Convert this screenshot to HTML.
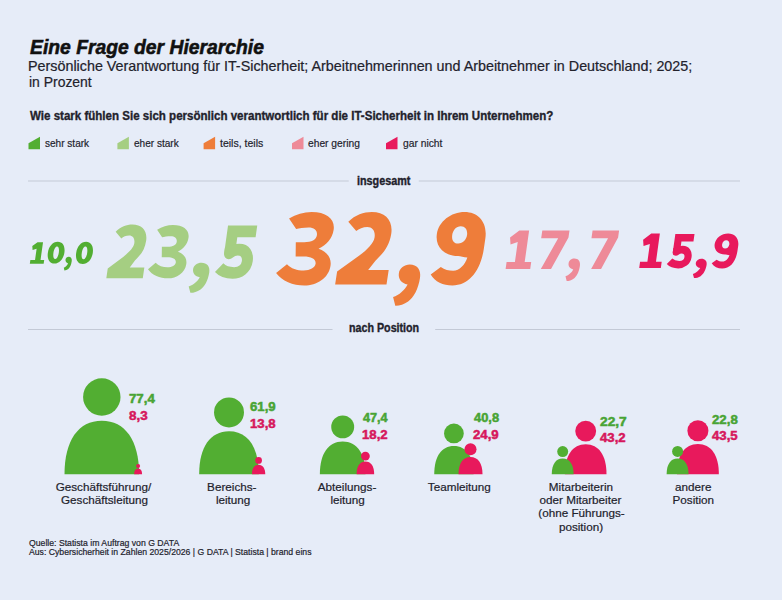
<!DOCTYPE html>
<html><head><meta charset="utf-8"><style>
html,body{margin:0;padding:0;}
body{width:782px;height:600px;background:#e6ecf8;position:relative;overflow:hidden;font-family:"Liberation Sans",sans-serif;}
.t{position:absolute;line-height:0;white-space:nowrap;}
svg{position:absolute;left:0;top:0;}
</style></head><body>
<svg width="782" height="600" viewBox="0 0 782 600"><g transform="translate(29.80,242.20) scale(0.2035,0.2160) translate(11.00,-0.00) skewX(-8.5)"><path fill="#52ae32" d="M27,0 L54,0 L54,82 L72,82 L72,100 L4,100 L4,82 L27,82 L27,30 L8,36 L4,18 Z"/></g><g transform="translate(47.70,241.80) scale(0.2231,0.2180) translate(8.25,-0.00) skewX(-8.5)"><path fill="#52ae32" fill-rule="evenodd" d="M37,0 C60,0 74,22 74,50 C74,78 60,100 37,100 C14,100 0,78 0,50 C0,22 14,0 37,0 Z M37,21 C30,21 25,33 25,50 C25,67 30,79 37,79 C44,79 49,67 49,50 C49,33 44,21 37,21 Z"/></g><g transform="translate(63.80,256.70) scale(0.2078,0.2432) translate(10.75,-72.00) skewX(-8.5)"><path fill="#52ae32" d="M23.7,72 C34,72 41,79 41,90 C41,106 36,118 29,123 C24,127 17,129 11.6,128.8 L6.7,117 C15,114 22,107 24.7,99.5 C16,98 10,92 10,84 C10,77 16,72 23.7,72 Z"/></g><g transform="translate(76.00,241.80) scale(0.2244,0.2220) translate(8.25,-0.00) skewX(-8.5)"><path fill="#52ae32" fill-rule="evenodd" d="M37,0 C60,0 74,22 74,50 C74,78 60,100 37,100 C14,100 0,78 0,50 C0,22 14,0 37,0 Z M37,21 C30,21 25,33 25,50 C25,67 30,79 37,79 C44,79 49,67 49,50 C49,33 44,21 37,21 Z"/></g><g transform="translate(106.30,224.50) scale(0.5208,0.5380) translate(-0.00,-0.00) skewX(-8.5)"><path fill="#a5ce82" d="M20,13.5 C28,4 39,0 50,0 C69,0 81,12 81,30 C81,47 74,57 65,67 L57,80 L85,80 L85,100 L15,100 L15,82 L42,60 C52,51 59,43 59,35 C59,26 54,20.5 47,20.5 C41,20.5 36,23 32.7,26 Z"/></g><g transform="translate(148.00,225.00) scale(0.5103,0.5330) translate(-0.00,-0.00) skewX(-8.5)"><path fill="#a5ce82" d="M19.2,9 C28,3 38,0 49,0 C70,0 83,10 83,24 C83,36 76,45 66,50 C78,54 86,62 86,73 C86,90 71,100 54,100 C38,100 22,94 12.4,83 L25.6,71 C32,77 41,79.5 50,79.5 C59,79.5 65,76 65,70.5 C65,64 58,60.5 47,60.5 L36,60.5 L33.3,41 L45,41 C55,41 61,37.5 61,31.5 C61,25 56,21 47.8,21 C41,21 35,22 31.1,23 Z"/></g><g transform="translate(188.70,262.70) scale(0.5377,0.5304) translate(10.75,-72.00) skewX(-8.5)"><path fill="#a5ce82" d="M23.7,72 C34,72 41,79 41,90 C41,106 36,118 29,123 C24,127 17,129 11.6,128.8 L6.7,117 C15,114 22,107 24.7,99.5 C16,98 10,92 10,84 C10,77 16,72 23.7,72 Z"/></g><g transform="translate(215.00,225.60) scale(0.4950,0.5294) translate(4.25,0.50) skewX(-8.5)"><path stroke="#a5ce82" stroke-width="22" fill="none" stroke-width="21" stroke-linejoin="miter" stroke-miterlimit="4" d="M81,10.5 L33,10.5 L33,54"/><path stroke="#a5ce82" stroke-width="22" fill="none" stroke-width="22" stroke-linejoin="round" d="M33,40 L33,52 C38,47 44,45 50,45 C64,45 71,55 71,67 C71,81 60,89 46,89 C34,89 24,86 16,79"/></g><g transform="translate(276.10,212.00) scale(0.7248,0.7350) translate(-0.00,-0.00) skewX(-8.5)"><path fill="#ee7d3a" d="M19.2,9 C28,3 38,0 49,0 C70,0 83,10 83,24 C83,36 76,45 66,50 C78,54 86,62 86,73 C86,90 71,100 54,100 C38,100 22,94 12.4,83 L25.6,71 C32,77 41,79.5 50,79.5 C59,79.5 65,76 65,70.5 C65,64 58,60.5 47,60.5 L36,60.5 L33.3,41 L45,41 C55,41 61,37.5 61,31.5 C61,25 56,21 47.8,21 C41,21 35,22 31.1,23 Z"/></g><g transform="translate(335.10,212.00) scale(0.7338,0.7260) translate(-0.00,-0.00) skewX(-8.5)"><path fill="#ee7d3a" d="M20,13.5 C28,4 39,0 50,0 C69,0 81,12 81,30 C81,47 74,57 65,67 L57,80 L85,80 L85,100 L15,100 L15,82 L42,60 C52,51 59,43 59,35 C59,26 54,20.5 47,20.5 C41,20.5 36,23 32.7,26 Z"/></g><g transform="translate(393.10,264.50) scale(0.7039,0.7242) translate(10.75,-72.00) skewX(-8.5)"><path fill="#ee7d3a" d="M23.7,72 C34,72 41,79 41,90 C41,106 36,118 29,123 C24,127 17,129 11.6,128.8 L6.7,117 C15,114 22,107 24.7,99.5 C16,98 10,92 10,84 C10,77 16,72 23.7,72 Z"/></g><g transform="translate(430.70,212.00) scale(0.7226,0.7340) translate(-0.00,-0.00) skewX(-8.5)"><path fill="#ee7d3a" fill-rule="evenodd" d="M47,0 C66,0 81,14 81,36 L81,50 C81,80 68,100 45,100 C32,100 20,95 12.7,85 L25.2,75 C31,79 37,80 43,80 C52,80 58,72 60,62 C55,62 50,60 47,60 C27,60 13,47 13,30 C13,13 28,0 47,0 Z M44.6,19.5 C38,19.5 34.5,25 34.5,31.5 C34.5,38 38,43 44.6,43 C51,43 55,38 55,31.5 C55,25 51,19.5 44.6,19.5 Z"/></g><g transform="translate(505.60,230.60) scale(0.3618,0.3840) translate(11.00,-0.00) skewX(-8.5)"><path fill="#ee8a98" d="M27,0 L54,0 L54,82 L72,82 L72,100 L4,100 L4,82 L27,82 L27,30 L8,36 L4,18 Z"/></g><g transform="translate(540.80,230.60) scale(0.3776,0.3840) translate(-0.00,-0.00) skewX(-8.5)"><path fill="#ee8a98" d="M4,0 L76,0 L76,18 L42,100 L15,100 L49,20 L4,20 Z"/></g><g transform="translate(565.50,258.60) scale(0.3766,0.3947) translate(10.75,-72.00) skewX(-8.5)"><path fill="#ee8a98" d="M23.7,72 C34,72 41,79 41,90 C41,106 36,118 29,123 C24,127 17,129 11.6,128.8 L6.7,117 C15,114 22,107 24.7,99.5 C16,98 10,92 10,84 C10,77 16,72 23.7,72 Z"/></g><g transform="translate(591.10,230.60) scale(0.3684,0.3840) translate(-0.00,-0.00) skewX(-8.5)"><path fill="#ee8a98" d="M4,0 L76,0 L76,18 L42,100 L15,100 L49,20 L4,20 Z"/></g><g transform="translate(639.20,233.60) scale(0.3180,0.3430) translate(11.00,-0.00) skewX(-8.5)"><path fill="#e8195c" d="M27,0 L54,0 L54,82 L72,82 L72,100 L4,100 L4,82 L27,82 L27,30 L8,36 L4,18 Z"/></g><g transform="translate(666.80,234.10) scale(0.3249,0.3413) translate(4.25,0.50) skewX(-8.5)"><path stroke="#e8195c" stroke-width="22" fill="none" stroke-width="21" stroke-linejoin="miter" stroke-miterlimit="4" d="M81,10.5 L33,10.5 L33,54"/><path stroke="#e8195c" stroke-width="22" fill="none" stroke-width="22" stroke-linejoin="round" d="M33,40 L33,52 C38,47 44,45 50,45 C64,45 71,55 71,67 C71,81 60,89 46,89 C34,89 24,86 16,79"/></g><g transform="translate(692.90,258.70) scale(0.3584,0.3419) translate(10.75,-72.00) skewX(-8.5)"><path fill="#e8195c" d="M23.7,72 C34,72 41,79 41,90 C41,106 36,118 29,123 C24,127 17,129 11.6,128.8 L6.7,117 C15,114 22,107 24.7,99.5 C16,98 10,92 10,84 C10,77 16,72 23.7,72 Z"/></g><g transform="translate(711.70,233.40) scale(0.3502,0.3520) translate(-0.00,-0.00) skewX(-8.5)"><path fill="#e8195c" fill-rule="evenodd" d="M47,0 C66,0 81,14 81,36 L81,50 C81,80 68,100 45,100 C32,100 20,95 12.7,85 L25.2,75 C31,79 37,80 43,80 C52,80 58,72 60,62 C55,62 50,60 47,60 C27,60 13,47 13,30 C13,13 28,0 47,0 Z M44.6,19.5 C38,19.5 34.5,25 34.5,31.5 C34.5,38 38,43 44.6,43 C51,43 55,38 55,31.5 C55,25 51,19.5 44.6,19.5 Z"/></g><polygon points="28.5,143.2 40.0,136.7 40.0,149.2 28.5,149.2" fill="#52ae32"/><polygon points="117.4,143.2 128.9,136.7 128.9,149.2 117.4,149.2" fill="#a5ce82"/><polygon points="203.6,143.2 215.1,136.7 215.1,149.2 203.6,149.2" fill="#ee7d3a"/><polygon points="292,143.2 303.5,136.7 303.5,149.2 292,149.2" fill="#ee8a98"/><polygon points="386,143.2 397.5,136.7 397.5,149.2 386,149.2" fill="#e8195c"/><rect x="28" y="180.5" width="320.7" height="1" fill="#c3c9d6"/><rect x="418.8" y="180.5" width="321.2" height="1" fill="#c3c9d6"/><rect x="28" y="329.0" width="304.5" height="1" fill="#c3c9d6"/><rect x="435.2" y="329.0" width="304.8" height="1" fill="#c3c9d6"/><circle cx="101.80" cy="396.94" r="18.72" fill="#52ae32"/><path d="M64.51,474.20 C64.51,440.46 78.31,420.65 101.80,420.65 C125.29,420.65 139.09,440.46 139.09,474.20 Z" fill="#52ae32"/><circle cx="138.10" cy="465.91" r="2.01" fill="#e8195c"/><path d="M134.10,474.20 C134.10,470.58 135.58,468.46 138.10,468.46 C140.62,468.46 142.10,470.58 142.10,474.20 Z" fill="#e8195c"/><circle cx="229.00" cy="412.41" r="14.97" fill="#52ae32"/><path d="M199.18,474.20 C199.18,447.22 210.21,431.37 229.00,431.37 C247.79,431.37 258.82,447.22 258.82,474.20 Z" fill="#52ae32"/><circle cx="258.60" cy="460.42" r="3.34" fill="#e8195c"/><path d="M251.95,474.20 C251.95,468.18 254.41,464.65 258.60,464.65 C262.79,464.65 265.25,468.18 265.25,474.20 Z" fill="#e8195c"/><circle cx="342.70" cy="426.89" r="11.46" fill="#52ae32"/><path d="M319.87,474.20 C319.87,453.54 328.31,441.40 342.70,441.40 C357.09,441.40 365.53,453.54 365.53,474.20 Z" fill="#52ae32"/><circle cx="365.40" cy="456.03" r="4.40" fill="#e8195c"/><path d="M356.63,474.20 C356.63,466.27 359.88,461.61 365.40,461.61 C370.92,461.61 374.17,466.27 374.17,474.20 Z" fill="#e8195c"/><circle cx="453.90" cy="433.47" r="9.87" fill="#52ae32"/><path d="M434.25,474.20 C434.25,456.41 441.52,445.97 453.90,445.97 C466.28,445.97 473.55,456.41 473.55,474.20 Z" fill="#52ae32"/><circle cx="470.50" cy="449.34" r="6.02" fill="#e8195c"/><path d="M458.50,474.20 C458.50,463.35 462.94,456.97 470.50,456.97 C478.06,456.97 482.50,463.35 482.50,474.20 Z" fill="#e8195c"/><circle cx="585.70" cy="431.08" r="10.45" fill="#e8195c"/><path d="M564.89,474.20 C564.89,455.37 572.59,444.31 585.70,444.31 C598.81,444.31 606.51,455.37 606.51,474.20 Z" fill="#e8195c"/><circle cx="562.70" cy="451.54" r="5.49" fill="#52ae32"/><path d="M551.76,474.20 C551.76,464.30 555.81,458.49 562.70,458.49 C569.59,458.49 573.64,464.30 573.64,474.20 Z" fill="#52ae32"/><circle cx="697.90" cy="430.78" r="10.52" fill="#e8195c"/><path d="M676.94,474.20 C676.94,455.24 684.70,444.10 697.90,444.10 C711.10,444.10 718.86,455.24 718.86,474.20 Z" fill="#e8195c"/><circle cx="677.60" cy="451.44" r="5.51" fill="#52ae32"/><path d="M666.62,474.20 C666.62,464.26 670.68,458.42 677.60,458.42 C684.52,458.42 688.58,464.26 688.58,474.20 Z" fill="#52ae32"/></svg>
<div id="title" class="t" style="top:46.88px;font-size:19.40px;font-weight:700;font-style:italic;color:#111111;letter-spacing:0.000px;-webkit-text-stroke:0.55px #111111;transform:scaleX(0.9957);transform-origin:0 0;left:30.00px;">Eine Frage der Hierarchie</div>
<div id="sub1" class="t" style="top:65.88px;font-size:14.20px;font-weight:400;font-style:normal;color:#22222c;letter-spacing:0.000px;-webkit-text-stroke:0.2px #22222c;transform:scaleX(1.0099);transform-origin:0 0;left:28.00px;">Persönliche Verantwortung für IT-Sicherheit; Arbeitnehmerinnen und Arbeitnehmer in Deutschland; 2025;</div>
<div id="sub2" class="t" style="top:81.88px;font-size:14.20px;font-weight:400;font-style:normal;color:#22222c;letter-spacing:0.000px;-webkit-text-stroke:0.2px #22222c;transform:scaleX(0.982);transform-origin:0 0;left:29.20px;">in Prozent</div>
<div id="q" class="t" style="top:115.76px;font-size:12.80px;font-weight:700;font-style:normal;color:#22222c;letter-spacing:0.000px;-webkit-text-stroke:0.35px #22222c;transform:scaleX(0.902);transform-origin:0 0;left:30.20px;">Wie stark fühlen Sie sich persönlich verantwortlich für die IT-Sicherheit in Ihrem Unternehmen?</div>
<div id="leg0" class="t" style="top:143.18px;font-size:11.60px;font-weight:400;font-style:normal;color:#22222c;letter-spacing:0.000px;-webkit-text-stroke:0.2px #22222c;transform:scaleX(0.8661);transform-origin:0 0;left:45.40px;">sehr stark</div>
<div id="leg1" class="t" style="top:143.18px;font-size:11.60px;font-weight:400;font-style:normal;color:#22222c;letter-spacing:0.000px;-webkit-text-stroke:0.2px #22222c;transform:scaleX(0.8675);transform-origin:0 0;left:134.00px;">eher stark</div>
<div id="leg2" class="t" style="top:143.18px;font-size:11.60px;font-weight:400;font-style:normal;color:#22222c;letter-spacing:0.000px;-webkit-text-stroke:0.2px #22222c;transform:scaleX(0.9066);transform-origin:0 0;left:220.00px;">teils, teils</div>
<div id="leg3" class="t" style="top:143.18px;font-size:11.60px;font-weight:400;font-style:normal;color:#22222c;letter-spacing:0.000px;-webkit-text-stroke:0.2px #22222c;transform:scaleX(0.8837);transform-origin:0 0;left:308.20px;">eher gering</div>
<div id="leg4" class="t" style="top:143.18px;font-size:11.60px;font-weight:400;font-style:normal;color:#22222c;letter-spacing:0.000px;-webkit-text-stroke:0.2px #22222c;transform:scaleX(0.886);transform-origin:0 0;left:402.60px;">gar nicht</div>
<div id="ins" class="t" style="top:181.08px;font-size:11.90px;font-weight:700;font-style:normal;color:#22222c;letter-spacing:0.000px;-webkit-text-stroke:0.35px #22222c;transform:scaleX(0.9091);transform-origin:0 0;left:357.40px;">insgesamt</div>
<div id="nach" class="t" style="top:328.08px;font-size:11.90px;font-weight:700;font-style:normal;color:#22222c;letter-spacing:0.000px;-webkit-text-stroke:0.35px #22222c;transform:scaleX(0.9);transform-origin:0 0;left:349.00px;">nach Position</div>
<div id="gn0" class="t" style="top:399.30px;font-size:12.40px;font-weight:700;font-style:normal;color:#48a434;letter-spacing:0.000px;-webkit-text-stroke:0.5px #48a434;transform:scaleX(1.0679);transform-origin:0 0;left:128.60px;">77,4</div>
<div id="pn0" class="t" style="top:415.70px;font-size:12.40px;font-weight:700;font-style:normal;color:#d6175c;letter-spacing:0.000px;-webkit-text-stroke:0.5px #d6175c;transform:scaleX(1.0826);transform-origin:0 0;left:128.60px;">8,3</div>
<div id="lab0_0" class="t" style="top:486.75px;font-size:11.70px;font-weight:400;font-style:normal;color:#22222c;letter-spacing:0.000px;-webkit-text-stroke:0.2px #22222c;left:55.70px;">Geschäftsführung/</div>
<div id="lab0_1" class="t" style="top:499.95px;font-size:11.70px;font-weight:400;font-style:normal;color:#22222c;letter-spacing:0.000px;-webkit-text-stroke:0.2px #22222c;left:61.00px;">Geschäftsleitung</div>
<div id="gn1" class="t" style="top:407.00px;font-size:12.40px;font-weight:700;font-style:normal;color:#48a434;letter-spacing:0.000px;-webkit-text-stroke:0.5px #48a434;transform:scaleX(1.0647);transform-origin:0 0;left:250.00px;">61,9</div>
<div id="pn1" class="t" style="top:424.20px;font-size:12.40px;font-weight:700;font-style:normal;color:#d6175c;letter-spacing:0.000px;-webkit-text-stroke:0.5px #d6175c;transform:scaleX(1.0647);transform-origin:0 0;left:250.00px;">13,8</div>
<div id="lab1_0" class="t" style="top:486.75px;font-size:11.70px;font-weight:400;font-style:normal;color:#22222c;letter-spacing:0.000px;-webkit-text-stroke:0.2px #22222c;left:207.10px;">Bereichs-</div>
<div id="lab1_1" class="t" style="top:499.95px;font-size:11.70px;font-weight:400;font-style:normal;color:#22222c;letter-spacing:0.000px;-webkit-text-stroke:0.2px #22222c;left:215.90px;">leitung</div>
<div id="gn2" class="t" style="top:417.70px;font-size:12.40px;font-weight:700;font-style:normal;color:#48a434;letter-spacing:0.000px;-webkit-text-stroke:0.5px #48a434;transform:scaleX(1.0213);transform-origin:0 0;left:362.60px;">47,4</div>
<div id="pn2" class="t" style="top:435.10px;font-size:12.40px;font-weight:700;font-style:normal;color:#d6175c;letter-spacing:0.000px;-webkit-text-stroke:0.5px #d6175c;transform:scaleX(1.0647);transform-origin:0 0;left:361.60px;">18,2</div>
<div id="lab2_0" class="t" style="top:486.75px;font-size:11.70px;font-weight:400;font-style:normal;color:#22222c;letter-spacing:0.000px;-webkit-text-stroke:0.2px #22222c;left:317.80px;">Abteilungs-</div>
<div id="lab2_1" class="t" style="top:499.95px;font-size:11.70px;font-weight:400;font-style:normal;color:#22222c;letter-spacing:0.000px;-webkit-text-stroke:0.2px #22222c;left:330.40px;">leitung</div>
<div id="gn3" class="t" style="top:417.70px;font-size:12.40px;font-weight:700;font-style:normal;color:#48a434;letter-spacing:0.000px;-webkit-text-stroke:0.5px #48a434;transform:scaleX(1.0394);transform-origin:0 0;left:474.00px;">40,8</div>
<div id="pn3" class="t" style="top:435.10px;font-size:12.40px;font-weight:700;font-style:normal;color:#d6175c;letter-spacing:0.000px;-webkit-text-stroke:0.5px #d6175c;transform:scaleX(1.0647);transform-origin:0 0;left:473.00px;">24,9</div>
<div id="lab3_0" class="t" style="top:486.75px;font-size:11.70px;font-weight:400;font-style:normal;color:#22222c;letter-spacing:0.000px;-webkit-text-stroke:0.2px #22222c;left:427.80px;">Teamleitung</div>
<div id="gn4" class="t" style="top:421.90px;font-size:12.40px;font-weight:700;font-style:normal;color:#48a434;letter-spacing:0.000px;-webkit-text-stroke:0.5px #48a434;transform:scaleX(1.1091);transform-origin:0 0;left:600.40px;">22,7</div>
<div id="pn4" class="t" style="top:437.70px;font-size:12.40px;font-weight:700;font-style:normal;color:#d6175c;letter-spacing:0.000px;-webkit-text-stroke:0.5px #d6175c;transform:scaleX(1.0647);transform-origin:0 0;left:600.40px;">43,2</div>
<div id="lab4_0" class="t" style="top:486.75px;font-size:11.70px;font-weight:400;font-style:normal;color:#22222c;letter-spacing:0.000px;-webkit-text-stroke:0.2px #22222c;left:548.80px;">Mitarbeiterin</div>
<div id="lab4_1" class="t" style="top:499.95px;font-size:11.70px;font-weight:400;font-style:normal;color:#22222c;letter-spacing:0.000px;-webkit-text-stroke:0.2px #22222c;left:539.50px;">oder Mitarbeiter</div>
<div id="lab4_2" class="t" style="top:513.15px;font-size:11.70px;font-weight:400;font-style:normal;color:#22222c;letter-spacing:0.000px;-webkit-text-stroke:0.2px #22222c;left:538.30px;">(ohne Führungs-</div>
<div id="lab4_3" class="t" style="top:527.35px;font-size:11.70px;font-weight:400;font-style:normal;color:#22222c;letter-spacing:0.000px;-webkit-text-stroke:0.2px #22222c;left:558.90px;">position)</div>
<div id="gn5" class="t" style="top:419.70px;font-size:12.40px;font-weight:700;font-style:normal;color:#48a434;letter-spacing:0.000px;-webkit-text-stroke:0.5px #48a434;transform:scaleX(1.0678);transform-origin:0 0;left:712.40px;">22,8</div>
<div id="pn5" class="t" style="top:435.70px;font-size:12.40px;font-weight:700;font-style:normal;color:#d6175c;letter-spacing:0.000px;-webkit-text-stroke:0.5px #d6175c;transform:scaleX(1.0647);transform-origin:0 0;left:712.40px;">43,5</div>
<div id="lab5_0" class="t" style="top:486.75px;font-size:11.70px;font-weight:400;font-style:normal;color:#22222c;letter-spacing:0.000px;-webkit-text-stroke:0.2px #22222c;left:675.00px;">andere</div>
<div id="lab5_1" class="t" style="top:499.95px;font-size:11.70px;font-weight:400;font-style:normal;color:#22222c;letter-spacing:0.000px;-webkit-text-stroke:0.2px #22222c;left:672.50px;">Position</div>
<div id="f1" class="t" style="top:542.98px;font-size:9.30px;font-weight:400;font-style:normal;color:#22222c;letter-spacing:0.000px;-webkit-text-stroke:0.2px #22222c;transform:scaleX(0.9335);transform-origin:0 0;left:28.80px;">Quelle: Statista im Auftrag von G DATA</div>
<div id="f2" class="t" style="top:551.58px;font-size:9.30px;font-weight:400;font-style:normal;color:#22222c;letter-spacing:0.000px;-webkit-text-stroke:0.2px #22222c;transform:scaleX(0.9323);transform-origin:0 0;left:28.80px;">Aus: Cybersicherheit in Zahlen 2025/2026 | G DATA | Statista | brand eins</div>
</body></html>
